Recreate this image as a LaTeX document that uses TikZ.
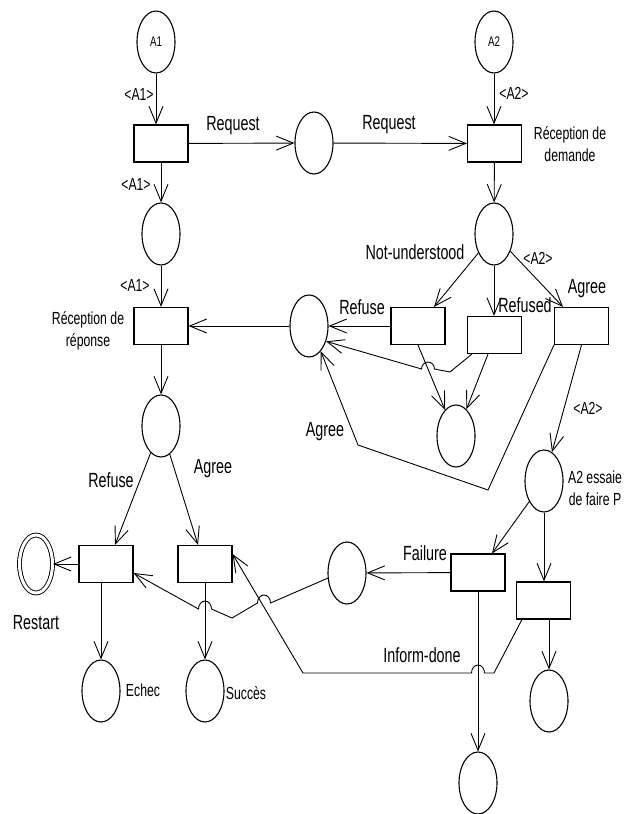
\documentclass[tikz,border=0pt]{standalone}
\usepackage{fontspec}
\setmainfont{Liberation Sans}[FakeStretch=0.7]
\usetikzlibrary{shapes.geometric,arrows.meta}

\begin{document}
\begin{tikzpicture}[x=1pt,y=-1pt,
  place/.style={ellipse,draw,line width=1.1pt,minimum width=38pt,minimum height=62pt,inner sep=0pt},
  final/.style={ellipse,draw,line width=0.9pt,double,double distance=3pt,minimum width=33pt,minimum height=58pt,inner sep=0pt},
  trans/.style={rectangle,draw,line width=1.15pt,minimum width=54pt,minimum height=37pt,inner sep=0pt},
  conn/.style={line width=0.9pt,-{Straight Barb[length=17pt,width=14pt]}},
  big/.style={font=\fontsize{20.5}{24}\selectfont,inner sep=0pt},
  small/.style={font=\fontsize{17.5}{22}\selectfont,inner sep=0pt,align=center},
  tiny/.style={font=\fontsize{14}{16}\selectfont}
]
\useasboundingbox (0,0) rectangle (626,814);

% places
\node[place] (A1) at (156,42) {};
\node[tiny] (A1t) at (A1) {A1};
\node[place] (A2) at (494,42) {};
\node[tiny] (A2t) at (A2) {A2};
\node[place] (Preq) at (314,143) {};
\node[place] (P1) at (161,234) {};
\node[place] (P2) at (494,234) {};
\node[place] (P3) at (309,326) {};
\node[place] (P4) at (456,436) {};
\node[place] (Q) at (161,426) {};
\node[place] (PE) at (544,481) {};
\node[place] (P5) at (347,573) {};
\node[place] (Echec) at (101,691) {};
\node[place] (Succes) at (205,691) {};
\node[place] (P7) at (549,701) {};
\node[place] (P6) at (478,783) {};
\node[final] (Restart) at (36,564) {};

% transitions
\node[trans] (T1) at (161,143.5) {};
\node[trans] (T2) at (494.5,143.5) {};
\node[trans] (T3) at (161,326) {};
\node[trans] (TN) at (418,326) {};
\node[trans] (TR) at (494.5,335) {};
\node[trans] (TA) at (581.5,326) {};
\node[trans] (TRL) at (106,564) {};
\node[trans] (TAL) at (205,564) {};
\node[trans] (TF) at (478,572.5) {};
\node[trans] (TS) at (543.5,600.5) {};

% initiator side
\draw[conn] (A1) -- (A1 |- T1.north);
\draw[conn] (T1) -- (P1);
\draw[conn] (P1) -- (T3);
\draw[conn] (T3) -- (Q);
\draw[conn] (T1) -- (Preq);
\draw[conn] (Preq) -- (T2);
\draw[conn] (Q) -- ([xshift=9pt]TRL.north);
\draw[conn] (Q) -- ([xshift=-7pt]TAL.north);
\draw[conn] (TRL) -- (Restart);
\draw[conn] (TRL.south -| Echec) -- (Echec);
\draw[conn] (TAL.south -| Succes) -- (Succes);

% participant side
\draw[conn] (A2) -- (A2 |- T2.north);
\draw[conn] (T2) -- (P2);
\draw[conn] (P2) -- ([xshift=16pt]TN.north);
\draw[conn] (P2) -- (P2 |- TR.north);
\draw[conn] (P2) -- ([xshift=-18.5pt]TA.north);
\draw[conn] (TN) -- (P3);
\draw[conn] (TN.south) -- (P4);
\draw[conn] ([xshift=-6.5pt]TR.south) -- (P4);
\draw[conn] ([xshift=5pt]TR.south west) -- (450,372) -- (434.5,369)
  arc[start angle=0,end angle=180,x radius=6.5pt,y radius=7pt] -- (P3.-42);
\draw[conn] (TA.south west) -- (488,490) -- (358,445) -- (P3.-65);
\draw[conn] (TA.south) -- (PE);
\draw[conn] (P3) -- (T3);
\draw[conn] (PE) -- ([xshift=14pt]TF.north);
\draw[conn] (PE) -- (PE |- TS.north);
\draw[conn] (TF) -- (P5);
\draw[conn] (TF) -- (P6);
\draw[conn] (TS.south -| P7) -- (P7);
\draw[conn] ([xshift=6pt]TS.south west) -- (494,673) -- (484.5,673)
  arc[start angle=0,end angle=180,x radius=6.5pt,y radius=8pt] -- (303,673) -- ([yshift=10pt]TAL.east);
\draw[conn] (P5.195) -- (270.5,603)
  arc[start angle=0,end angle=180,x radius=6.5pt,y radius=8pt] -- (232,618) -- (211.5,609)
  arc[start angle=0,end angle=180,x radius=6.5pt,y radius=8pt] -- ([yshift=-9pt]TRL.east);

% labels
\node[small] (lA1a) at (139,94) {<A1>};
\node[small] (lA1b) at (136,184) {<A1>};
\node[small] (lA1c) at (135,285) {<A1>};
\node[small] (lA2a) at (514,93) {<A2>};
\node[small] (lA2b) at (538,258) {<A2>};
\node[small] (lA2c) at (588,408) {<A2>};
\node[big] (lReq1) at (233,126) {Request};
\node[big] (lReq2) at (389,125) {Request};
\node[small] (lRecD) at (570,144) {Réception de\\demande};
\node[small] (lRecR) at (88,331) {Réception de\\réponse};
\node[big] (lNU) at (415,252) {Not-understood};
\node[big] (lRefd) at (525,305) {Refused};
\node[big] (lAgr1) at (587,289) {Agree};
\node[big] (lRef1) at (362,307) {Refuse};
\node[big] (lAgr2) at (325,432) {Agree};
\node[small] (lEss) at (595,488) {A2 essaie\\de faire P};
\node[big] (lFail) at (425,553) {Failure};
\node[big] (lInf) at (422,655) {Inform-done};
\node[big] (lRef2) at (111,480) {Refuse};
\node[big] (lAgr3) at (213,469) {Agree};
\node[big] (lRst) at (36,623) {Restart};
\node[small] (lEch) at (143,690) {Echec};
\node[small] (lSuc) at (246,693) {Succès};
\end{tikzpicture}
\end{document}
